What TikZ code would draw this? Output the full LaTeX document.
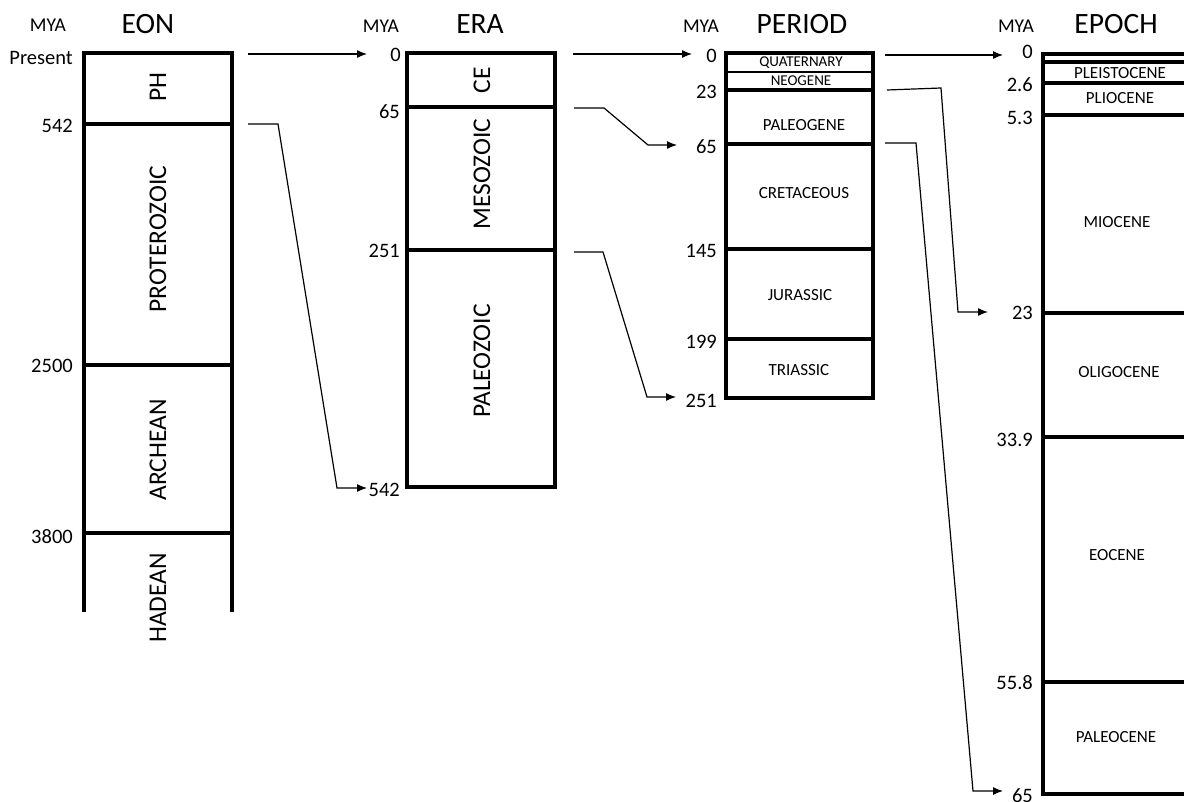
\documentclass[tikz,border=0pt]{standalone}
\usepackage{fontspec}
\setmainfont{Carlito}
\usetikzlibrary{arrows.meta}
\begin{document}
\begin{tikzpicture}[x=1pt,y=-1pt,
  col/.style={line width=3.5pt, line join=miter},
  sep/.style={line width=3.5pt},
  thinsep/.style={line width=1.8pt},
  conn/.style={line width=1.2pt, -{Latex[length=10pt,width=8pt]}, line join=miter},
  hdr/.style={font=\fontsize{29.5}{31}\selectfont, inner sep=0},
  mya/.style={font=\fontsize{19.5}{21}\selectfont, inner sep=0},
  num/.style={font=\fontsize{20.5}{22}\selectfont, inner sep=0, anchor=east},
  vlab/.style={font=\fontsize{25.5}{27}\selectfont, inner sep=0, rotate=90},
  lab/.style={font=\fontsize{17}{19}\selectfont, inner sep=0},
  small/.style={font=\fontsize{15}{16}\selectfont, inner sep=0}]
\useasboundingbox (0,0) rectangle (1184,802);
\clip (0,0) rectangle (1184,802);
\fill[white] (0,0) rectangle (1184,802);

% headers
\node[mya] (myaA) at (48,25) {MYA};
\node[hdr] (hEon) at (148,24) {EON};
\node[mya] (myaB) at (381,26) {MYA};
\node[hdr] (hEra) at (480,24) {ERA};
\node[mya] (myaC) at (701,26) {MYA};
\node[hdr] (hPer) at (802,24) {PERIOD};
\node[mya] (myaD) at (1016,26) {MYA};
\node[hdr] (hEpo) at (1116,24) {EPOCH};

% EON column
\draw[col] (84,612) -- (84,53) -- (232,53) -- (232,612);
\draw[sep] (84,124) -- (232,124);
\draw[sep] (84,365) -- (232,365);
\draw[sep] (84,533) -- (232,533);
\node[vlab] (ph) at (158,87) {PH};
\node[vlab] (prot) at (158,239) {PROTEROZOIC};
\node[vlab] (arch) at (158,450) {ARCHEAN};
\node[vlab] (had) at (158,598) {HADEAN};
\node[num] (nPres) at (73,58) {Present};
\node[num] (nE542) at (73,126) {542};
\node[num] (nE2500) at (73,366) {2500};
\node[num] (nE3800) at (73,537) {3800};

% ERA column
\draw[col] (407,53) rectangle (555,487);
\draw[sep] (407,107) -- (555,107);
\draw[sep] (407,250) -- (555,250);
\node[vlab] (ce) at (482,80) {CE};
\node[vlab] (meso) at (482,174) {MESOZOIC};
\node[vlab] (paleo) at (482,361) {PALEOZOIC};
\node[num] (nR0) at (401,55) {0};
\node[num] (nR65) at (400,112) {65};
\node[num] (nR251) at (400,251) {251};
\node[num] (nR542) at (400,490) {542};

% PERIOD column
\draw[col] (726,53) rectangle (873,398);
\draw[thinsep] (726,72) -- (873,72);
\draw[sep] (726,90) -- (873,90);
\draw[sep] (726,144) -- (873,144);
\draw[sep] (726,249) -- (873,249);
\draw[sep] (726,339) -- (873,339);
\node[small] (quat) at (801,63) {QUATERNARY};
\node[small] (neo) at (801,81) {NEOGENE};
\node[lab] (paleog) at (804,125) {PALEOGENE};
\node[lab] (cret) at (804,193) {CRETACEOUS};
\node[lab] (jur) at (800,295) {JURASSIC};
\node[lab] (tri) at (799,370) {TRIASSIC};
\node[num] (nP0) at (717,56) {0};
\node[num] (nP23) at (717,92) {23};
\node[num] (nP65) at (717,147) {65};
\node[num] (nP145) at (717,251) {145};
\node[num] (nP199) at (717,342) {199};
\node[num] (nP251) at (717,401) {251};

% EPOCH column
\draw[col] (1043,54) rectangle (1195,794);
\draw[sep] (1043,62) -- (1195,62);
\draw[sep] (1043,83) -- (1195,83);
\draw[sep] (1043,115) -- (1195,115);
\draw[sep] (1043,313) -- (1195,313);
\draw[sep] (1043,437) -- (1195,437);
\draw[sep] (1043,682) -- (1195,682);
\node[lab] (pleis) at (1120,73) {PLEISTOCENE};
\node[lab] (plio) at (1120,98) {PLIOCENE};
\node[lab] (mio) at (1117,222) {MIOCENE};
\node[lab] (oli) at (1119,372) {OLIGOCENE};
\node[lab] (eoc) at (1117,555) {EOCENE};
\node[lab] (paleoc) at (1116,737) {PALEOCENE};
\node[num] (nQ0) at (1033,52) {0};
\node[num] (nQ26) at (1033,85) {2.6};
\node[num] (nQ53) at (1033,118) {5.3};
\node[num] (nQ23) at (1033,313) {23};
\node[num] (nQ339) at (1033,440) {33.9};
\node[num] (nQ558) at (1033,683) {55.8};
\node[num] (nQ65) at (1033,796) {65};

% connector points
\coordinate (a0s) at (248,54);  \coordinate (a0t) at (367,54);
\coordinate (a1s) at (248,124); \coordinate (a1b) at (278,124);
\coordinate (a1c) at (337,488); \coordinate (a1t) at (367,488);
\coordinate (b0s) at (573,54);  \coordinate (b0t) at (692,54);
\coordinate (b1s) at (574,108); \coordinate (b1b) at (604,108);
\coordinate (b1c) at (648,145); \coordinate (b1t) at (677,145);
\coordinate (b2s) at (574,252); \coordinate (b2b) at (603,252);
\coordinate (b2c) at (647,397); \coordinate (b2t) at (676,397);
\coordinate (c0s) at (885,55);  \coordinate (c0t) at (1003,55);
\coordinate (c1s) at (887,90);  \coordinate (c1b) at (941,88);
\coordinate (c1c) at (958,312); \coordinate (c1t) at (988,312);
\coordinate (c2s) at (885,143); \coordinate (c2b) at (916,143);
\coordinate (c2c) at (973,791); \coordinate (c2t) at (1003,791);

\draw[conn] (a0s) -- (a0t);
\draw[conn] (a1s) -- (a1b) -- (a1c) -- (a1t);
\draw[conn] (b0s) -- (b0t);
\draw[conn] (b1s) -- (b1b) -- (b1c) -- (b1t);
\draw[conn] (b2s) -- (b2b) -- (b2c) -- (b2t);
\draw[conn] (c0s) -- (c0t);
\draw[conn] (c1s) -- (c1b) -- (c1c) -- (c1t);
\draw[conn] (c2s) -- (c2b) -- (c2c) -- (c2t);
\end{tikzpicture}
\end{document}
